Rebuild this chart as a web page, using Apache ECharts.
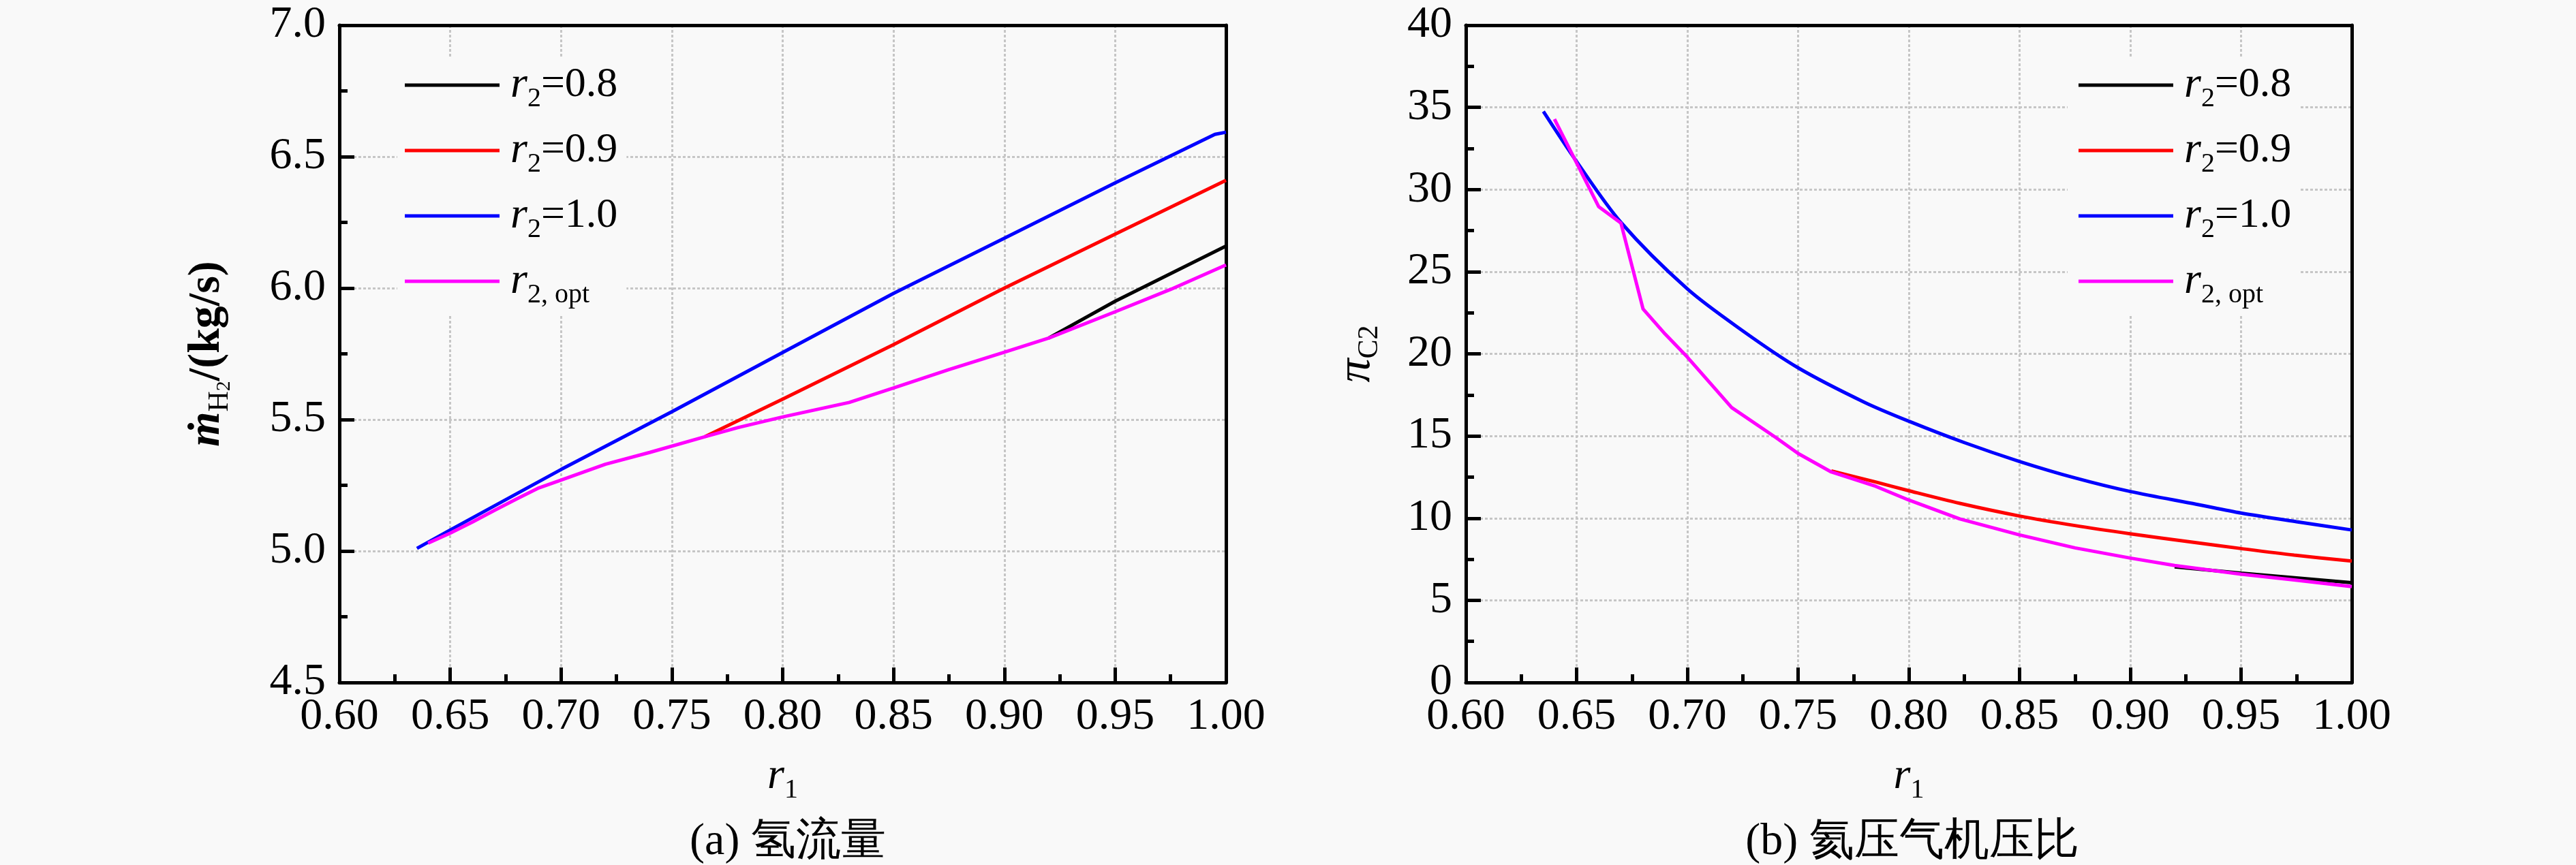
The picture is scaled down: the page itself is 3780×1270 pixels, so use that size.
<!DOCTYPE html>
<html>
<head>
<meta charset="utf-8">
<title>r1 hydrogen flow and compressor ratio</title>
<script src="https://cdn.jsdelivr.net/npm/echarts@6/dist/echarts.min.js"></script>
<style>
	html, body { margin: 0; padding: 0; background: #f9f9f9; }
	#main { width: 3780px; height: 1270px; }
</style>
</head>
<body>
<div id="main"></div>
<script>
// (a) 氢流量, kg/s
var aBlueR1 = [0.635, 0.65, 0.70, 0.75, 0.80, 0.85, 0.90, 0.95, 0.995, 1.00];
var aBlueM = [5.01, 5.08, 5.31, 5.53, 5.755, 5.98, 6.19, 6.40, 6.585, 6.593];
var aRedR1 = [0.765, 0.80, 0.85, 0.90, 0.95, 1.00];
var aRedM = [5.435, 5.578, 5.785, 6.00, 6.205, 6.41];
var aBlackR1 = [0.92, 0.95, 1.00];
var aBlackM = [5.81, 5.95, 6.16];
var aOptR1 = [0.64, 0.65, 0.66, 0.67, 0.68, 0.69, 0.70, 0.72, 0.74, 0.765, 0.78, 0.80, 0.83, 0.85, 0.875, 0.90, 0.92, 0.95, 0.975, 1.00];
var aOptM = [5.03, 5.068, 5.11, 5.155, 5.198, 5.24, 5.27, 5.33, 5.375, 5.435, 5.47, 5.51, 5.565, 5.62, 5.69, 5.756, 5.81, 5.91, 5.995, 6.088];

// (b) 氦压气机压比
var bBlueR1 = [0.635, 0.65, 0.67, 0.70, 0.725, 0.75, 0.78, 0.80, 0.825, 0.85, 0.875, 0.90, 0.93, 0.95, 0.975, 1.00];
var bBluePi = [34.75, 31.7, 28.0, 23.95, 21.4, 19.15, 17.05, 15.9, 14.6, 13.45, 12.45, 11.62, 10.84, 10.31, 9.78, 9.28];
var bRedR1 = [0.765, 0.785, 0.80, 0.823, 0.85, 0.875, 0.90, 0.928, 0.95, 0.974, 1.00];
var bRedPi = [12.87, 12.2, 11.67, 10.9, 10.13, 9.55, 9.05, 8.54, 8.15, 7.75, 7.39];
var bBlackR1 = [0.92, 0.95, 1.00];
var bBlackPi = [7.04, 6.65, 6.07];
var bOptR1 = [0.64, 0.66, 0.67, 0.68, 0.69, 0.70, 0.72, 0.74, 0.75, 0.765, 0.785, 0.80, 0.823, 0.85, 0.875, 0.90, 0.92, 0.95, 0.974, 1.00];
var bOptPi = [34.28, 28.95, 27.96, 22.73, 21.2, 19.8, 16.73, 14.9, 13.94, 12.81, 11.94, 11.10, 9.95, 8.98, 8.19, 7.57, 7.12, 6.59, 6.24, 5.83];

var seriesNames = ['r2=0.8', 'r2=0.9', 'r2=1.0', 'r2,opt'];
var legendLabels = ['{r|r}{s|2}{t|=0.8}', '{r|r}{s|2}{t|=0.9}', '{r|r}{s|2}{t|=1.0}', '{r|r}{s|2, opt}'];
var seriesColors = ['#000000', '#ff0000', '#0000ff', '#ff00ff'];
var xTicks = [0.60, 1.00, 0.05];
var aTicks = [4.5, 7.0, 0.5];
var bTicks = [0, 40, 5];

// one family name only, a list gets lost
var font = 'Liberation Serif';
var bg = '#f9f9f9';

var chart = echarts.init(document.getElementById('main'));

function pairs(xs, ys) {
	var out = [];
	for (var i = 0; i < xs.length; i++) {
		out.push([xs[i], ys[i]]);
	}
	return out;
}

var subRich = {
	r: { fontFamily: font, fontStyle: 'italic', fontSize: 64, lineHeight: 80, color: '#000' },
	s: { fontFamily: font, fontSize: 40, lineHeight: 40, verticalAlign: 'bottom', color: '#000' },
	t: { fontFamily: font, fontSize: 62, lineHeight: 80, color: '#000' }
};

function legendRich() {
	return {
		r: { fontFamily: font, fontStyle: 'italic', fontSize: 64, lineHeight: 80, color: '#000', padding: [0, 0, 0, 11] },
		s: { fontFamily: font, fontSize: 40, lineHeight: 40, verticalAlign: 'bottom', color: '#000' },
		t: { fontFamily: font, fontSize: 62, lineHeight: 80, color: '#000' }
	};
}

// labelled axes: line, grid lines, labels, name
function makeX(gi) {
	return {
		type: 'value',
		gridIndex: gi,
		min: xTicks[0],
		max: xTicks[1],
		interval: xTicks[2],
		name: '{r|r}{s|1}',
		nameLocation: 'middle',
		nameGap: 98,
		nameTextStyle: { rich: subRich },
		axisLine: { show: true, onZero: false, lineStyle: { color: '#000', width: 5 } },
		axisTick: { show: false },
		splitLine: { show: true, lineStyle: { color: '#c6c6c6', width: 3, type: [4, 3] } },
		axisLabel: {
			fontFamily: font, fontSize: 66, color: '#000', margin: 18,
			formatter: function(v) { return v.toFixed(2); }
		}
	};
}

function makeY(gi, ticks, digits, name, gap, rich) {
	return {
		type: 'value',
		gridIndex: gi,
		min: ticks[0],
		max: ticks[1],
		interval: ticks[2],
		name: name,
		nameLocation: 'middle',
		nameGap: gap,
		nameTextStyle: { rich: rich },
		axisLine: { show: true, onZero: false, lineStyle: { color: '#000', width: 5 } },
		axisTick: { show: false },
		splitLine: { show: true, lineStyle: { color: '#c6c6c6', width: 3, type: [4, 3] } },
		axisLabel: {
			fontFamily: font, fontSize: 66, color: '#000', margin: 20,
			formatter: function(v) { return v.toFixed(digits); }
		}
	};
}

// inward major and minor ticks
function tickAxis(kind, gi, ticks) {
	return {
		type: 'value',
		gridIndex: gi,
		position: kind === 'x' ? 'bottom' : 'left',
		min: ticks[0],
		max: ticks[1],
		interval: ticks[2],
		axisLine: { show: false },
		axisTick: { show: true, inside: true, length: 22, lineStyle: { color: '#000', width: 5 } },
		minorTick: { show: true, splitNumber: 2, length: 12, lineStyle: { color: '#000', width: 5 } },
		axisLabel: { show: false },
		splitLine: { show: false }
	};
}

// top and right edges of the frame
function frameAxis(kind, gi, ticks) {
	return {
		type: 'value',
		gridIndex: gi,
		position: kind === 'x' ? 'top' : 'right',
		min: ticks[0],
		max: ticks[1],
		axisLine: { show: true, onZero: false, lineStyle: { color: '#000', width: 5 } },
		axisTick: { show: false },
		axisLabel: { show: false },
		splitLine: { show: false }
	};
}

var mRich = {
	m: { fontFamily: font, fontStyle: 'italic', fontWeight: 'bold', fontSize: 66, lineHeight: 80, color: '#000' },
	h: { fontFamily: font, fontSize: 42, lineHeight: 40, verticalAlign: 'bottom', color: '#000' },
	h2: { fontFamily: font, fontSize: 30, lineHeight: 26, verticalAlign: 'bottom', color: '#000' },
	t: { fontFamily: font, fontWeight: 'bold', fontSize: 66, lineHeight: 80, color: '#000' }
};
var piRich = {
	p: { fontFamily: font, fontStyle: 'italic', fontSize: 70, lineHeight: 80, color: '#000' },
	c: { fontFamily: font, fontSize: 42, lineHeight: 40, verticalAlign: 'bottom', color: '#000' }
};

function line(name, color, gi, data, smooth) {
	return {
		name: name,
		type: 'line',
		xAxisIndex: gi,
		yAxisIndex: gi,
		data: data,
		smooth: smooth || false,
		showSymbol: false,
		symbol: 'none',
		lineStyle: { color: color, width: 5 },
		itemStyle: { color: color },
		z: 3
	};
}

function legendFor(left, padLeft, padRight) {
	return {
		left: left,
		top: 85,
		orient: 'vertical',
		align: 'left',
		icon: 'rect',
		itemWidth: 139,
		itemHeight: 5,
		itemGap: 16,
		padding: [0, padRight, 8, padLeft],
		backgroundColor: bg,
		selectedMode: false,
		data: seriesNames,
		formatter: function(name) {
			return legendLabels[seriesNames.indexOf(name)];
		},
		textStyle: { lineHeight: 80, rich: legendRich() }
	};
}

var option = {
	backgroundColor: bg,
	animation: false,
	title: [{
			text: '(a) 氢流量',
			left: 1151,
			top: 1192,
			textAlign: 'center',
			textStyle: { fontFamily: font, fontSize: 66, fontWeight: 'normal', color: '#000', lineHeight: 80 }
		},
		{
			text: '(b) 氦压气机压比',
			left: 2801,
			top: 1192,
			textAlign: 'center',
			textStyle: { fontFamily: font, fontSize: 66, fontWeight: 'normal', color: '#000', lineHeight: 80 }
		}
	],
	legend: [legendFor(583, 11, 13), legendFor(3034, 16, 13)],
	grid: [
		{ left: 498, top: 37, width: 1301, height: 965 },
		{ left: 2151, top: 37, width: 1300, height: 965 }
	],
	xAxis: [
		makeX(0), makeX(1),
		tickAxis('x', 0, xTicks), tickAxis('x', 1, xTicks),
		frameAxis('x', 0, xTicks), frameAxis('x', 1, xTicks)
	],
	yAxis: [
		makeY(0, aTicks, 1, '{m|ṁ}{h|H}{h2|2}{t|/(kg/s)}', 154, mRich),
		makeY(1, bTicks, 0, '{p|π}{c|C2}', 120, piRich),
		tickAxis('y', 0, aTicks), tickAxis('y', 1, bTicks),
		frameAxis('y', 0, aTicks), frameAxis('y', 1, bTicks)
	],
	series: [
		line(seriesNames[0], seriesColors[0], 0, pairs(aBlackR1, aBlackM)),
		line(seriesNames[1], seriesColors[1], 0, pairs(aRedR1, aRedM)),
		line(seriesNames[2], seriesColors[2], 0, pairs(aBlueR1, aBlueM)),
		line(seriesNames[3], seriesColors[3], 0, pairs(aOptR1, aOptM)),
		line(seriesNames[0], seriesColors[0], 1, pairs(bBlackR1, bBlackPi)),
		line(seriesNames[1], seriesColors[1], 1, pairs(bRedR1, bRedPi), 0.3),
		line(seriesNames[2], seriesColors[2], 1, pairs(bBlueR1, bBluePi), 0.3),
		line(seriesNames[3], seriesColors[3], 1, pairs(bOptR1, bOptPi))
	]
};

chart.setOption(option);
</script>
</body>
</html>
